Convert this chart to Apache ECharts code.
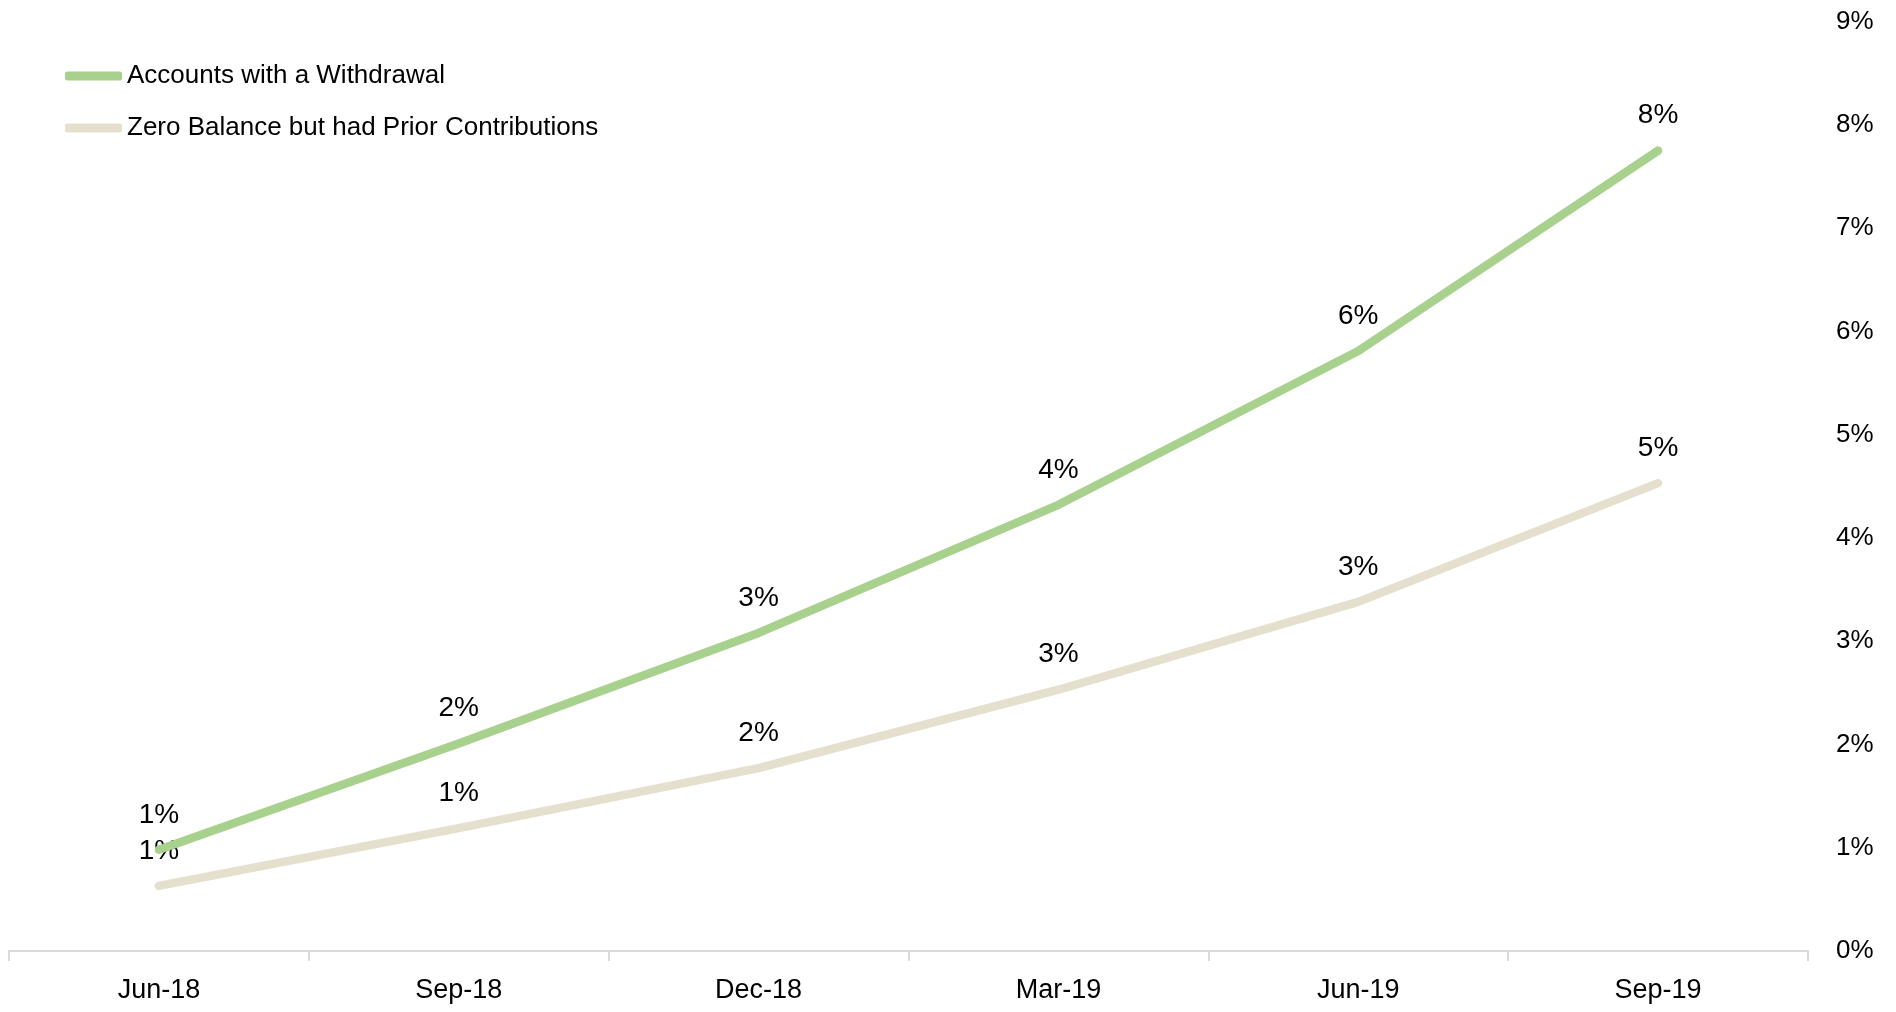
<!DOCTYPE html>
<html>
<head>
<meta charset="utf-8">
<script src="https://cdn.jsdelivr.net/npm/echarts@6/dist/echarts.min.js"></script>
<style>
html,body{margin:0;padding:0;background:#fff;}
#chart{width:1896px;height:1012px;}
</style>
</head>
<body>
<div id="chart"></div>
<script>
const categories = ['Jun-18','Sep-18','Dec-18','Mar-19','Jun-19','Sep-19'];
const withdrawalValues = [0.98, 2.01, 3.08, 4.32, 5.81, 7.75];
const zeroBalanceValues = [0.63, 1.19, 1.77, 2.53, 3.38, 4.53];
const seriesNames = ['Accounts with a Withdrawal', 'Zero Balance but had Prior Contributions'];
const yTicks = {min: 0, max: 9, interval: 1};

const narrow = "'Liberation Sans Narrow', 'Arial Narrow', 'Liberation Sans', Arial, sans-serif";
const regular = "'Liberation Sans', Arial, sans-serif";

const chart = echarts.init(document.getElementById('chart'));
function mkSeries(name, data, color, z) {
  return {
    name: name,
    type: 'line',
    data: data,
    z: z,
    symbol: 'circle',
    symbolSize: 2,
    itemStyle: {color: 'rgba(0,0,0,0)'},
    lineStyle: {color: color, width: 8.5, cap: 'round', join: 'round'},
    emphasis: {disabled: true},
    label: {
      show: true,
      position: 'top',
      distance: 20,
      color: '#000',
      fontFamily: narrow,
      fontSize: 28,
      formatter: p => Math.round(p.value) + '%'
    }
  };
}
chart.setOption({
  animation: false,
  backgroundColor: '#fff',
  grid: {left: 9, right: 88, top: 21.5, bottom: 61, containLabel: false},
  legend: {
    orient: 'vertical',
    left: 60,
    top: 54,
    itemWidth: 57,
    itemHeight: 9,
    itemGap: 18,
    icon: 'roundRect',
    textStyle: {fontFamily: narrow, fontSize: 26, lineHeight: 34, color: '#000'},
    data: [
      {name: seriesNames[0], itemStyle: {color: '#A9D18E', opacity: 1}},
      {name: seriesNames[1], itemStyle: {color: '#E5DFCE', opacity: 1}}
    ]
  },
  xAxis: {
    type: 'category',
    data: categories,
    boundaryGap: true,
    axisLine: {show: true, lineStyle: {color: '#D9D9D9', width: 2}},
    axisTick: {show: true, length: 10, lineStyle: {color: '#D9D9D9', width: 2}},
    axisLabel: {color: '#000', fontFamily: narrow, fontSize: 27, margin: 26},
    splitLine: {show: false}
  },
  yAxis: {
    type: 'value',
    position: 'right',
    min: yTicks.min,
    max: yTicks.max,
    interval: yTicks.interval,
    axisLine: {show: false},
    axisTick: {show: false},
    splitLine: {show: false},
    axisLabel: {color: '#000', fontFamily: regular, fontSize: 26, margin: 28, formatter: v => v + '%'}
  },
  series: [
    mkSeries(seriesNames[0], withdrawalValues, '#A9D18E', 3),
    mkSeries(seriesNames[1], zeroBalanceValues, '#E5DFCE', 2)
  ]
});
</script>
</body>
</html>
